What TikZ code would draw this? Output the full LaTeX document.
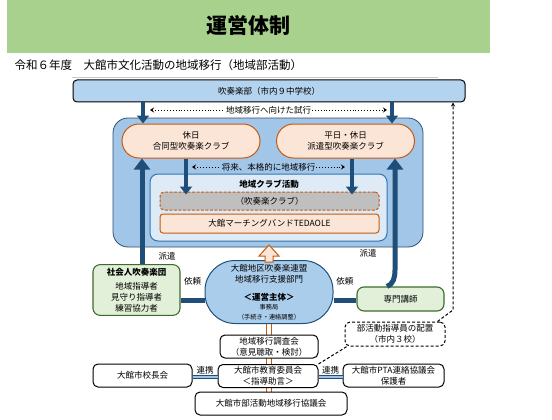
\documentclass[tikz,border=0pt]{standalone}
\usepackage{fontspec}
\setmainfont{Noto Sans CJK JP}
\usetikzlibrary{arrows.meta,calc}
\definecolor{titlefill}{HTML}{A9D18E}
\definecolor{bandfill}{HTML}{B4D3EE}
\definecolor{framefill}{HTML}{A2C6E8}
\definecolor{framestroke}{HTML}{2F4F70}
\definecolor{innerfill}{HTML}{DEEBF7}
\definecolor{innerstroke}{HTML}{2E75B6}
\definecolor{clubfill}{HTML}{FBE5D6}
\definecolor{clubstroke}{HTML}{C55A11}
\definecolor{greyfill}{HTML}{BFBFBF}
\definecolor{memberfill}{HTML}{E2F0D9}
\definecolor{memberstroke}{HTML}{3F6A2A}
\definecolor{flowblue}{HTML}{1F4E79}
\definecolor{linkfill}{HTML}{9DC3E6}
\definecolor{unionfill}{HTML}{ABCDEC}
\newcommand{\smalltxt}{\fontsize{6.2}{8}\selectfont}
\tikzset{
  body/.style={font=\fontsize{8.5}{11}\selectfont},
  club/.style={
    rectangle,
    rounded corners=17pt,
    draw=clubstroke,
    fill=clubfill,
    line width=1pt,
    minimum width=138pt,
    minimum height=34pt,
    align=center,
    body
  },
  unit/.style={
    rectangle,
    rounded corners=5pt,
    draw=black,
    fill=white,
    line width=1pt,
    minimum height=23pt,
    inner sep=1pt,
    align=center,
    body
  },
  member/.style={
    rectangle,
    rounded corners=7pt,
    draw=memberstroke,
    fill=memberfill,
    line width=1.1pt,
    minimum width=87pt,
    align=center,
    body
  },
  bigflow/.style={
    -{Triangle[length=11pt,width=16pt]},
    draw=flowblue,
    line width=5pt
  },
  downflow/.style={
    -{Triangle[length=8pt,width=12pt]},
    draw=flowblue,
    line width=4.5pt
  },
  reqline/.style={draw=flowblue,line width=5pt},
  linkline/.style={draw=flowblue,double=linkfill,double distance=2pt,line width=1.2pt},
  tryflow/.style={
    {Stealth[length=4pt,width=5pt]}-{Stealth[length=4pt,width=5pt]},
    dotted,
    line width=0.9pt
  },
  guide/.style={dash pattern=on 3pt off 2pt,line width=1pt},
  flowlabel/.style={inner sep=1pt,body}
}

\begin{document}
\begin{tikzpicture}[x=1pt,y=-1pt]
  \useasboundingbox (0,0) rectangle (552,420);

  % Title band.
  \path[fill=titlefill] (7,0) rectangle (490,53);
  \node[font=\fontsize{21}{24}\selectfont\bfseries] (title) at (248,26) {運営体制};
  \node[anchor=west,font=\fontsize{11.5}{13}\selectfont] (subtitle) at (11,65)
    {令和６年度　大館市文化活動の地域移行（地域部活動）};
  \draw[black!22,line width=0.8pt] (72,77) -- (438,77);

  % School clubs and the region frame.
  \node[rectangle,rounded corners=4pt,draw=black,fill=bandfill,line width=1pt,
    minimum width=392pt,minimum height=22pt,body] (bukatsu) at (269,91)
    {吹奏楽部（市内９中学校）};
  \path[fill=framefill,draw=framestroke,line width=0.8pt,rounded corners=15pt]
    (113,118) rectangle (423,247);

  \node[club] (clubL) at (191,141) {休日\\合同型吹奏楽クラブ};
  \node[club] (clubR) at (345.5,141) {平日・休日\\派遣型吹奏楽クラブ};

  \path[fill=innerfill,draw=innerstroke,line width=1pt,rounded corners=8pt]
    (150,174) rectangle (387,241);
  \node[body,font=\fontsize{8.5}{11}\selectfont\bfseries] (areatitle) at (269,184) {地域クラブ活動};
  \node[rectangle,rounded corners=4pt,draw=clubstroke,fill=greyfill,line width=1pt,
    dash pattern=on 3pt off 1.5pt,minimum width=219pt,minimum height=18pt,body]
    (grey) at (269.5,201) {（吹奏楽クラブ）};
  \node[rectangle,rounded corners=3pt,draw=clubstroke,fill=clubfill,line width=1pt,
    minimum width=219pt,minimum height=19pt,body]
    (tedaole) at (269.5,223.5) {大館マーチングバンドTEDAOLE};

  % Lower organisations.
  \node[member] (shakai) at (136.5,290)
    {\textbf{社会人吹奏楽団}\\[3pt]地域指導者\\見守り指導者\\練習協力者};
  \node[member,minimum height=24pt] (senmon) at (400.5,299) {専門講師};
  \node[rectangle,rounded corners=30pt,draw=flowblue,fill=unionfill,line width=1pt,
    minimum width=128pt,minimum height=63pt,align=center,inner sep=0pt,body]
    (renmei) at (269,292)
    {大館地区吹奏楽連盟\\地域移行支援部門\\[7pt]\textbf{＜運営主体＞}\\[-2pt]
     \smalltxt 事務局\\[-1pt]\smalltxt （手続き・連絡調整）};

  \coordinate (downL) at (143,0);
  \coordinate (downR) at (392,0);
  \coordinate (midL) at (186,0);
  \coordinate (midR) at (352,0);
  \coordinate (hakenL) at (142,0);
  \coordinate (hakenR) at (395,270);
  \coordinate (trialL) at (150,110);
  \coordinate (trialR) at (387,110);
  \coordinate (futureL) at (192,167);
  \coordinate (futureR) at (345,167);
  \coordinate (guideturn) at (453,310);

  % Council line behind the boxes.
  \draw[clubstroke,line width=0.8pt]
    ([xshift=-2.5pt]renmei.south) -- ([xshift=-2.5pt]renmei.south |- 0,392);
  \draw[clubstroke,line width=0.8pt]
    ([xshift=2.5pt]renmei.south) -- ([xshift=2.5pt]renmei.south |- 0,392);

  \node[unit,minimum width=98pt] (chosakai) at (269,346.5) {地域移行調査会\\（意見聴取・検討）};
  \node[unit,minimum width=100pt] (kyoiku) at (268,376) {大館市教育委員会\\＜指導助言＞};
  \node[unit,minimum width=152pt] (kyogikai) at (271,403.5) {大館市部活動地域移行協議会};
  \node[unit,minimum width=99pt] (kocho) at (142.5,375.5) {大館市校長会};
  \node[unit,minimum width=101pt] (pta) at (393.5,375.5) {大館市PTA連絡協議会\\保護者};
  \node[unit,guide,minimum width=100pt,minimum height=24pt] (haichi) at (395,334)
    {部活動指導員の配置\\（市内３校）};

  % Trial and future moves.
  \draw[tryflow] (trialL) -- node[flowlabel,fill=white] {地域移行へ向けた試行} (trialR);
  \draw[tryflow] (futureL) -- node[flowlabel,fill=framefill] {将来、本格的に地域移行} (futureR);

  % Main flows.
  \draw[downflow] (bukatsu.south -| downL) -- (clubL.north -| downL);
  \draw[downflow] (bukatsu.south -| downR) -- (clubR.north -| downR);
  \draw[downflow,line width=4pt,shorten >=-3pt] (clubL.south -| midL) -- (grey.north -| midL);
  \draw[downflow,line width=4pt,shorten >=-3pt] (clubR.south -| midR) -- (grey.north -| midR);

  \draw[bigflow] (shakai.north -| hakenL)
    -- node[flowlabel,anchor=west,xshift=13pt,pos=0.07] {派遣} (clubL.south -| hakenL);
  \draw[bigflow] ([xshift=-13.5pt]senmon.north) .. controls +(6,-2) and +(0,8) .. (hakenR)
    -- node[flowlabel,anchor=east,xshift=-15pt,pos=0.15] {派遣} (clubR.south -| hakenR);

  \draw[reqline] (shakai.east |- 0,300)
    -- node[flowlabel,above=11pt] {依頼} (renmei.west |- 0,300);
  \draw[reqline] (renmei.east |- 0,300)
    -- node[flowlabel,above=11pt] {依頼} (senmon.west |- 0,300);

  \draw[fill=clubfill,draw=clubstroke,line width=1pt,line join=miter]
    ($(renmei.north)+(-4,2)$) -- ++(0,-6) -- ++(-6,0) -- ++(10,-11)
    -- ++(10,11) -- ++(-6,0) -- ++(0,6) -- cycle;

  % Cooperation.
  \draw[linkline] (kocho.east |- 0,377)
    -- node[flowlabel,above=1pt] {連携} (kyoiku.west |- 0,377);
  \draw[linkline] (kyoiku.east |- 0,377)
    -- node[flowlabel,above=1pt] {連携} (pta.west |- 0,377);

  % Instructor placement.
  \draw[guide] (kyoiku.north east) -- ($(haichi.south west)+(4,-1)$);
  \draw[guide,-{Stealth[length=4pt,width=4pt]}] ($(haichi.north east)+(-8,0)$)
    -- (guideturn) -- (bukatsu.south -| guideturn);
\end{tikzpicture}
\end{document}
